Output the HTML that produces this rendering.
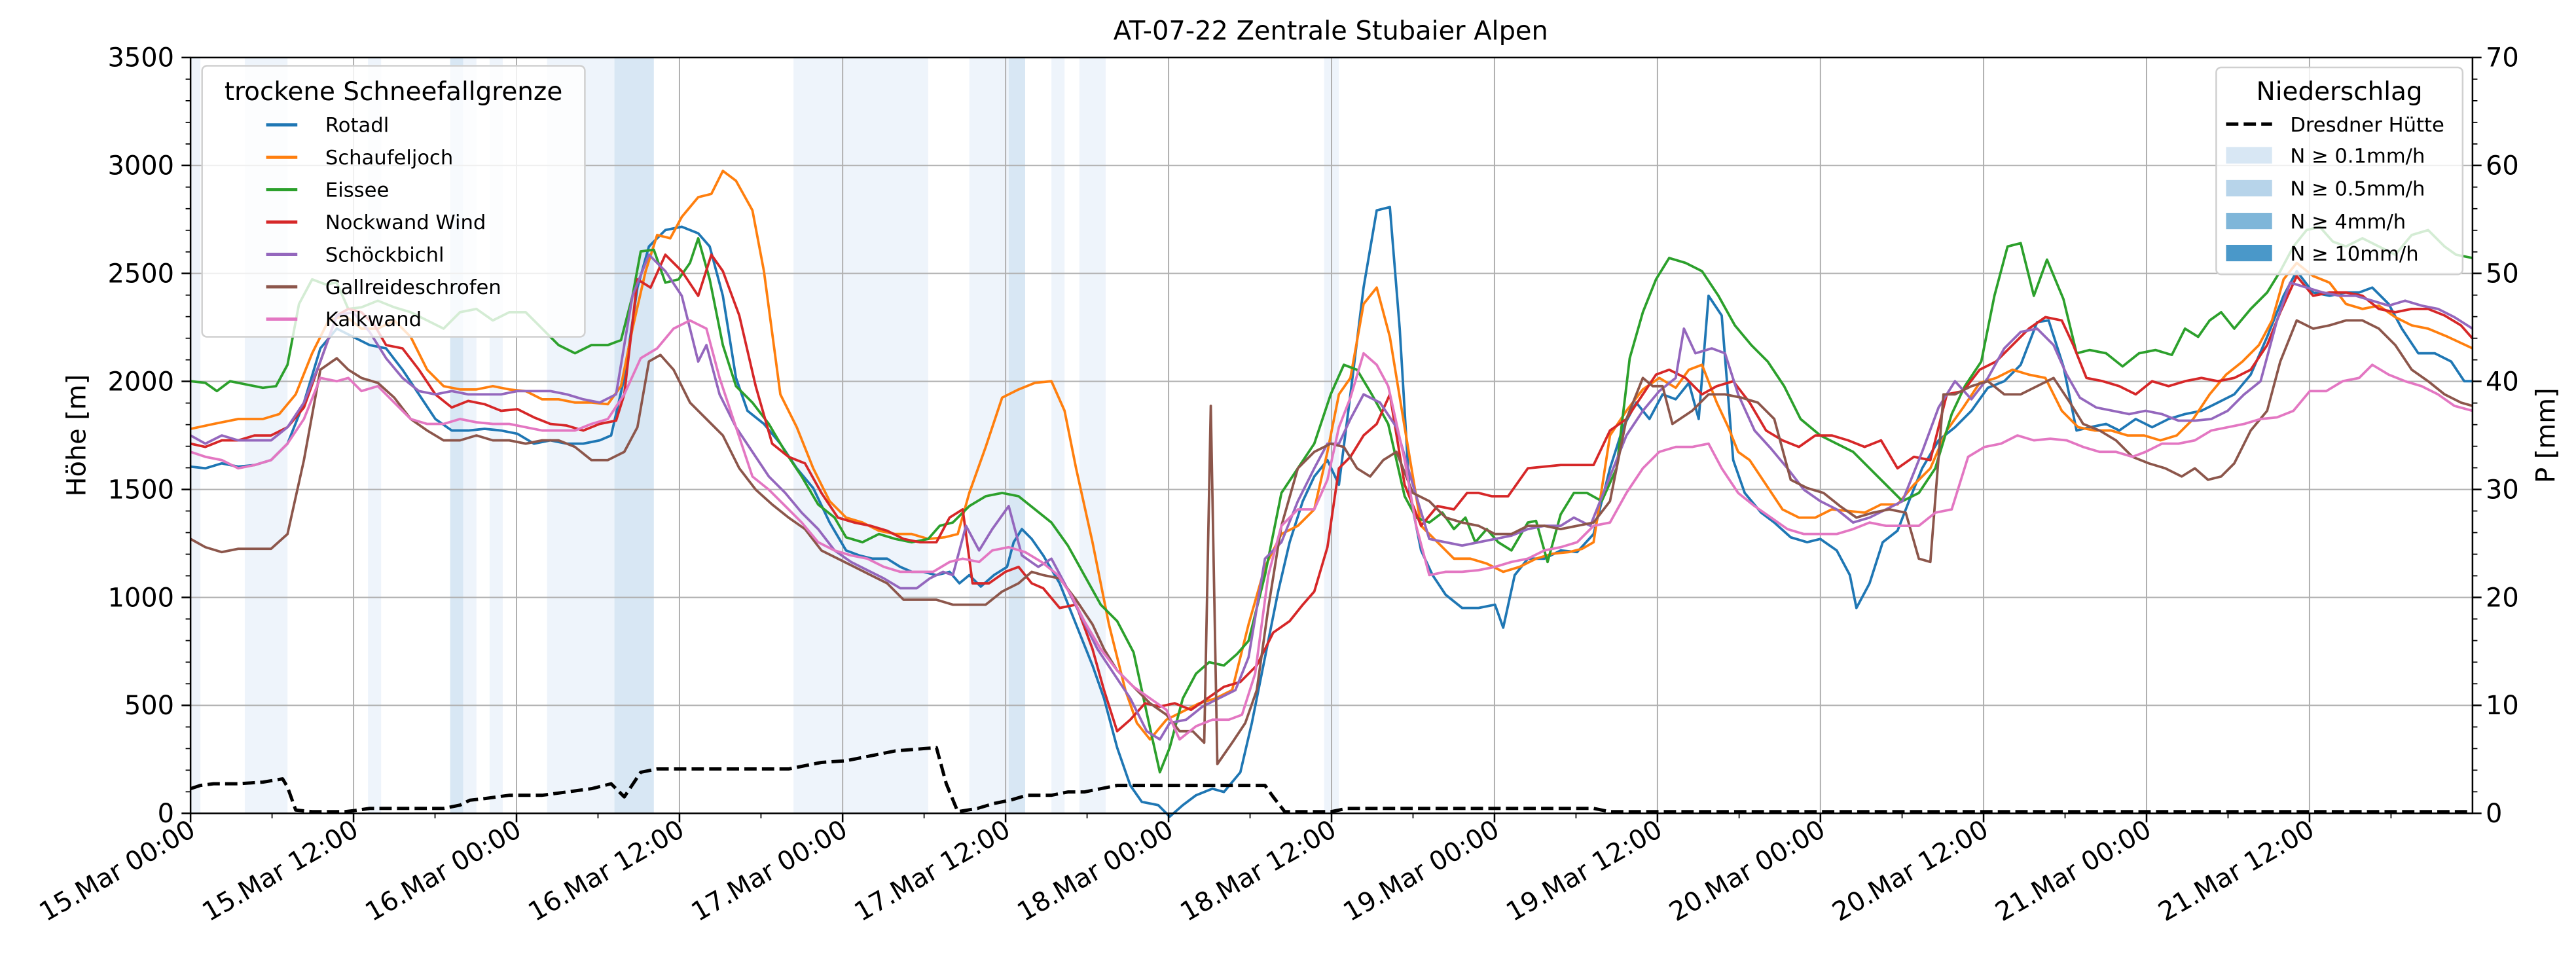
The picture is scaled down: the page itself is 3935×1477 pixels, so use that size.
<!DOCTYPE html>
<html><head><meta charset="utf-8"><style>html,body{margin:0;padding:0;background:#fff}svg{display:block}</style></head>
<body>
<svg width="3935" height="1477" viewBox="0 0 1568 588.5" xmlns="http://www.w3.org/2000/svg" font-family="DejaVu Sans, Liberation Sans, sans-serif">
<rect x="0" y="0" width="1568" height="588.5" fill="#fff"/>
<!-- precipitation bands -->
<g>
<rect x="116" y="35" width="6" height="460" fill="#eef4fb"/>
<rect x="149" y="35" width="26" height="460" fill="#eef4fb"/>
<rect x="224" y="35" width="8" height="460" fill="#eef4fb"/>
<rect x="274" y="35" width="8" height="460" fill="#d8e7f4"/>
<rect x="282" y="35" width="8" height="460" fill="#eef4fb"/>
<rect x="298" y="35" width="8" height="460" fill="#eef4fb"/>
<rect x="333" y="35" width="41" height="460" fill="#eef4fb"/>
<rect x="374" y="35" width="24" height="460" fill="#d8e7f4"/>
<rect x="483" y="35" width="82" height="460" fill="#eef4fb"/>
<rect x="590" y="35" width="24" height="460" fill="#eef4fb"/>
<rect x="614" y="35" width="10" height="460" fill="#d8e7f4"/>
<rect x="640" y="35" width="8" height="460" fill="#eef4fb"/>
<rect x="657" y="35" width="16" height="460" fill="#eef4fb"/>
<rect x="806" y="35" width="9" height="460" fill="#eef4fb"/>
</g>
<!-- grid -->
<g stroke="#b0b0b0" stroke-width="0.8" fill="none">
<path d="M116 429.3H1505M116 363.6H1505M116 297.9H1505M116 232.1H1505M116 166.4H1505M116 100.7H1505"/>
<path d="M215.2 35V495M314.4 35V495M413.6 35V495M512.9 35V495M612.1 35V495M711.3 35V495M810.5 35V495M909.7 35V495M1008.9 35V495M1108.1 35V495M1207.4 35V495M1306.6 35V495M1405.8 35V495"/>
</g>
<!-- series -->
<g fill="none" stroke-width="1.5" stroke-linejoin="round">
<polyline stroke="#1f77b4" points="116,284 125,285 135,282 145,284 155,283 165,280 175,270 185,245 195,212 205,200 215,205 225,210 235,212 245,225 255,240 265,255 275,262 285,262 295,261 305,262 315,264 325,270 335,268 345,270 355,270 365,268 372,265 380,230 388,175 395,150 405,140 415,138 425,142 432,150 440,180 448,230 455,250 465,258 475,270 485,285 495,297 505,318 515,335 523,338 531,340 540,340 548,345 555,348 562,348 570,350 578,348 584,355 590,350 597,357 605,350 613,345 617,330 622,322 628,328 635,338 645,355 655,380 665,405 672,425 680,455 688,478 695,488 705,490 712,497 720,490 728,484 738,480 745,482 755,470 762,440 770,400 778,360 785,330 793,305 800,290 808,280 815,295 822,240 830,175 838,128 846,126 852,200 858,300 865,335 872,350 880,362 890,370 900,370 910,368 915,382 922,350 930,340 940,340 950,335 960,336 970,325 980,285 988,260 996,245 1004,255 1012,240 1020,243 1028,233 1034,255 1040,180 1048,192 1055,280 1062,300 1072,312 1080,318 1090,327 1100,330 1108,328 1118,335 1126,350 1130,370 1138,355 1146,330 1155,323 1162,305 1170,285 1180,268 1190,260 1200,250 1210,236 1220,232 1230,222 1240,196 1247,195 1256,223 1264,262 1272,260 1282,258 1290,262 1300,255 1310,260 1320,255 1330,252 1340,250 1350,245 1360,240 1370,228 1380,205 1390,180 1398,165 1408,178 1418,180 1428,178 1436,178 1444,175 1454,185 1462,200 1472,215 1482,215 1492,220 1500,232 1505,232"/>
<polyline stroke="#ff7f0e" points="116,261 130,258 145,255 160,255 170,252 180,240 190,215 200,195 210,192 220,200 230,200 240,195 250,205 260,225 270,235 280,237 290,237 300,235 310,237 320,238 330,243 340,243 350,245 360,245 370,246 378,235 385,200 393,165 400,143 408,145 415,132 425,120 433,118 440,104 448,110 458,128 465,165 475,240 485,260 495,285 505,305 515,315 525,318 535,323 545,325 555,325 565,328 575,327 583,325 590,300 600,272 610,242 620,237 630,233 640,232 648,250 655,285 665,330 675,380 685,420 692,440 700,450 710,438 720,433 730,428 740,425 750,420 760,380 770,345 780,325 790,320 800,310 808,275 815,240 822,230 830,185 838,175 846,205 855,260 865,320 875,330 885,340 895,340 905,343 915,348 925,345 935,340 945,337 955,336 963,334 970,330 980,265 990,250 1000,237 1010,230 1020,236 1028,225 1036,222 1045,245 1052,260 1058,275 1065,280 1075,295 1085,310 1095,315 1105,315 1115,310 1125,311 1135,312 1145,307 1155,307 1165,295 1175,285 1185,262 1195,248 1205,233 1215,230 1225,225 1235,228 1245,230 1255,250 1265,260 1275,262 1285,262 1295,265 1305,265 1315,268 1325,265 1335,255 1345,240 1355,228 1365,220 1375,210 1383,195 1390,170 1398,160 1408,168 1418,172 1428,185 1438,188 1448,186 1458,193 1468,198 1478,200 1490,205 1505,212"/>
<polyline stroke="#2ca02c" points="116,232 125,233 132,238 140,232 150,234 160,236 168,235 175,222 182,185 190,170 198,173 205,172 212,188 220,187 230,183 240,187 250,190 260,195 270,200 280,190 290,188 300,195 310,190 320,190 330,200 340,210 350,215 360,210 370,210 378,207 385,180 390,153 398,152 405,172 413,170 420,160 425,145 432,170 440,210 448,235 458,245 468,258 478,275 488,290 498,307 508,315 515,327 525,330 535,325 545,328 555,330 565,328 572,320 580,318 590,308 600,302 610,300 620,302 630,310 640,318 650,332 660,350 670,368 680,378 690,397 700,443 706,470 712,455 720,425 728,410 736,403 745,405 753,398 760,390 770,350 780,300 790,285 800,270 810,240 818,222 826,225 835,240 845,258 855,302 862,315 870,318 878,312 885,322 892,315 898,330 905,322 912,330 920,335 930,318 935,317 942,342 950,313 958,300 966,300 975,305 984,285 992,218 1000,190 1008,170 1016,157 1026,160 1036,165 1046,180 1056,198 1066,210 1076,220 1086,235 1096,255 1108,265 1118,270 1128,275 1138,285 1148,295 1158,305 1168,300 1178,285 1188,252 1196,235 1206,220 1214,180 1222,150 1230,148 1238,180 1246,158 1256,182 1264,215 1272,213 1282,215 1292,223 1302,215 1312,213 1322,216 1330,200 1338,205 1345,195 1352,190 1360,200 1370,188 1380,178 1388,165 1396,150 1404,140 1412,138 1420,147 1428,150 1438,145 1448,150 1458,155 1468,143 1478,140 1488,150 1495,155 1505,157"/>
<polyline stroke="#d62728" points="116,270 125,272 135,268 145,268 155,265 165,265 175,260 185,248 195,220 205,192 212,188 220,190 228,198 235,210 245,212 255,225 265,240 275,248 285,244 295,246 305,250 315,249 325,254 335,258 345,259 355,262 365,258 375,256 380,240 388,170 396,175 405,155 415,165 425,180 433,155 440,165 450,192 460,235 470,270 480,278 490,282 500,300 510,315 520,318 530,320 540,323 550,328 560,330 570,330 578,315 586,310 592,355 602,355 612,348 620,345 628,355 635,358 645,370 655,368 665,395 672,420 680,445 688,438 697,428 706,430 715,428 725,432 735,425 745,418 755,415 765,405 775,385 785,378 793,368 800,360 808,333 815,285 822,278 830,265 838,258 846,240 855,295 865,320 875,308 885,310 893,300 900,300 908,302 918,302 930,285 940,284 950,283 960,283 970,283 980,262 990,255 1000,240 1008,228 1016,225 1026,230 1036,240 1045,235 1055,232 1065,245 1075,262 1085,268 1095,272 1105,265 1115,265 1125,268 1135,272 1145,268 1155,285 1165,278 1175,280 1185,240 1195,238 1205,225 1215,220 1225,210 1235,200 1245,193 1255,195 1262,210 1270,230 1280,232 1290,235 1300,240 1310,232 1320,235 1330,232 1340,230 1350,232 1360,230 1370,225 1380,210 1388,190 1398,168 1408,180 1418,178 1428,178 1438,180 1448,188 1458,190 1468,188 1478,188 1488,192 1498,198 1505,206"/>
<polyline stroke="#9467bd" points="116,265 125,270 135,265 145,268 155,268 165,268 175,260 185,245 195,220 205,192 215,190 225,202 235,218 245,230 255,238 265,240 275,238 285,240 295,240 305,240 315,238 325,238 335,238 345,240 355,243 365,245 375,240 385,180 395,155 405,165 415,180 425,220 430,210 438,240 448,260 458,275 468,290 478,300 488,312 498,322 508,335 518,342 528,347 538,352 548,358 558,358 566,352 574,348 580,350 588,320 596,335 604,322 614,308 622,338 632,345 640,340 648,355 658,375 668,395 678,410 688,425 698,445 706,450 712,440 722,438 732,430 742,425 752,420 760,400 770,340 780,330 790,305 800,285 808,270 815,270 822,255 830,240 840,245 850,260 860,295 870,328 880,330 890,332 900,330 910,328 920,326 930,322 940,320 950,320 958,315 968,320 980,290 990,265 1000,250 1010,238 1020,230 1025,200 1032,215 1042,212 1050,215 1058,240 1068,262 1078,273 1088,285 1098,298 1108,305 1118,310 1128,318 1138,315 1148,310 1158,305 1170,275 1180,248 1190,232 1200,243 1210,230 1220,212 1230,202 1240,200 1250,210 1258,228 1266,242 1276,248 1286,250 1296,252 1306,250 1316,252 1326,256 1336,256 1346,255 1356,250 1366,240 1376,232 1386,195 1394,172 1404,175 1414,178 1424,180 1434,180 1444,183 1454,186 1464,183 1474,186 1484,188 1494,193 1505,200"/>
<polyline stroke="#8c564b" points="116,328 125,333 135,336 145,334 155,334 165,334 175,325 185,280 195,225 205,218 212,225 220,230 230,233 240,242 250,255 260,262 270,268 280,268 290,265 300,268 310,268 320,270 330,268 340,268 350,272 360,280 370,280 380,275 388,260 395,220 402,216 410,225 420,245 430,255 440,265 450,285 460,298 470,307 480,315 490,322 500,335 510,340 520,345 530,350 540,355 550,365 560,365 570,365 580,368 590,368 600,368 610,360 620,355 628,348 635,350 645,352 655,365 665,380 672,395 680,408 690,418 700,428 710,435 718,445 726,445 733,452 737,247 741,465 750,452 758,440 765,420 772,370 780,320 790,285 800,275 810,270 818,272 826,285 834,290 842,280 850,275 860,300 870,305 880,315 890,318 900,320 910,325 920,325 930,320 940,320 950,322 960,320 970,318 980,305 990,255 1000,230 1006,235 1012,235 1018,258 1030,250 1040,240 1050,240 1060,242 1070,245 1080,255 1090,292 1100,297 1110,300 1120,308 1130,315 1140,312 1150,310 1160,312 1168,340 1175,342 1183,240 1190,240 1200,235 1210,232 1220,240 1230,240 1240,235 1250,230 1260,245 1268,258 1278,262 1288,268 1298,278 1308,282 1318,285 1328,290 1336,285 1344,292 1352,290 1360,282 1370,262 1380,250 1388,220 1398,195 1408,200 1418,198 1428,195 1438,195 1448,200 1458,210 1468,225 1478,232 1488,240 1498,245 1505,247"/>
<polyline stroke="#e377c2" points="116,275 125,278 135,280 145,285 155,283 165,280 175,270 185,255 195,230 205,232 212,230 220,238 230,235 240,245 250,255 260,258 270,258 280,255 290,257 300,258 310,258 320,260 330,262 340,262 350,262 360,258 370,255 380,240 390,218 400,212 410,200 420,195 430,200 438,230 448,260 458,290 468,298 478,308 488,318 498,330 508,335 518,338 528,340 538,345 548,348 558,348 568,348 578,342 586,340 596,342 604,335 614,333 624,336 634,342 644,350 652,362 660,378 670,395 680,408 690,418 700,425 710,432 718,450 728,442 738,438 748,438 756,435 764,410 772,350 780,320 790,310 800,310 808,292 815,260 822,242 830,215 838,222 845,235 855,280 862,320 870,350 880,348 890,348 900,347 910,345 920,342 930,340 940,335 950,333 960,330 970,320 980,318 990,300 1000,285 1010,275 1020,272 1030,272 1040,270 1048,285 1058,300 1068,308 1078,315 1088,322 1098,325 1108,325 1118,325 1128,322 1138,318 1148,320 1158,320 1168,320 1178,312 1188,310 1198,278 1208,272 1218,270 1228,265 1238,268 1248,267 1258,268 1268,272 1278,275 1288,275 1298,278 1306,275 1316,270 1326,270 1336,268 1346,262 1356,260 1366,258 1376,255 1386,254 1396,250 1406,238 1416,238 1426,232 1436,230 1444,222 1454,228 1464,232 1474,235 1484,240 1494,247 1505,250"/>
<polyline stroke="#000" stroke-width="2" stroke-dasharray="7.5,3.2" points="116,480 122,478 130,477 145,477 160,476 172,474 175,479 180,493 190,494 210,494 218,493 225,492 270,492 280,490 286,487 295,486 310,484 330,484 345,482 360,480 372,477 380,485 390,470 400,468 480,468 490,466 500,464 515,463 530,460 545,457 570,455 576,477 583,494 595,492 605,489 615,487 625,484 640,484 650,482 660,482 670,480 680,478 690,478 770,478 775,485 782,494 810,494 815,493 820,492 970,492 980,494 1505,494"/>
</g>
<!-- spines -->
<rect x="116" y="35" width="1389" height="460" fill="none" stroke="#000" stroke-width="1"/>
<!-- ticks -->
<g stroke="#000" stroke-width="1" fill="none">
<path d="M110.5 495H116M110.5 429.3H116M110.5 363.6H116M110.5 297.9H116M110.5 232.1H116M110.5 166.4H116M110.5 100.7H116M110.5 35H116"/>
<path d="M1505 495H1510.5M1505 429.3H1510.5M1505 363.6H1510.5M1505 297.9H1510.5M1505 232.1H1510.5M1505 166.4H1510.5M1505 100.7H1510.5M1505 35H1510.5"/>
<path stroke-width="0.7" d="M113 481.86h3M113 468.71h3M113 455.57h3M113 442.43h3M113 416.14h3M113 403h3M113 389.86h3M113 376.71h3M113 350.43h3M113 337.29h3M113 324.14h3M113 311h3M113 284.71h3M113 271.57h3M113 258.43h3M113 245.29h3M113 219h3M113 205.86h3M113 192.71h3M113 179.57h3M113 153.29h3M113 140.14h3M113 127h3M113 113.86h3M113 87.57h3M113 74.43h3M113 61.29h3M113 48.14h3"/>
<path stroke-width="0.7" d="M1505 481.86h3M1505 468.71h3M1505 455.57h3M1505 442.43h3M1505 416.14h3M1505 403h3M1505 389.86h3M1505 376.71h3M1505 350.43h3M1505 337.29h3M1505 324.14h3M1505 311h3M1505 284.71h3M1505 271.57h3M1505 258.43h3M1505 245.29h3M1505 219h3M1505 205.86h3M1505 192.71h3M1505 179.57h3M1505 153.29h3M1505 140.14h3M1505 127h3M1505 113.86h3M1505 87.57h3M1505 74.43h3M1505 61.29h3M1505 48.14h3"/>
<path d="M116 495v5.5M215.2 495v5.5M314.4 495v5.5M413.6 495v5.5M512.9 495v5.5M612.1 495v5.5M711.3 495v5.5M810.5 495v5.5M909.7 495v5.5M1008.9 495v5.5M1108.1 495v5.5M1207.4 495v5.5M1306.6 495v5.5M1405.8 495v5.5"/>
<path stroke-width="0.7" d="M165.6 495v3M264.8 495v3M364 495v3M463.2 495v3M562.5 495v3M661.7 495v3M760.9 495v3M860.1 495v3M959.3 495v3M1058.6 495v3M1157.8 495v3M1257 495v3M1356.2 495v3M1455.4 495v3"/>
</g>
<!-- tick labels -->
<g font-size="15.9" fill="#000" text-anchor="end">
<text x="106" y="500.5">0</text>
<text x="106" y="434.8">500</text>
<text x="106" y="369.1">1000</text>
<text x="106" y="303.4">1500</text>
<text x="106" y="237.6">2000</text>
<text x="106" y="171.9">2500</text>
<text x="106" y="106.2">3000</text>
<text x="106" y="40.5">3500</text>
</g>
<g font-size="15.9" fill="#000" text-anchor="start">
<text x="1513" y="500.5">0</text>
<text x="1513" y="434.8">10</text>
<text x="1513" y="369.1">20</text>
<text x="1513" y="303.4">30</text>
<text x="1513" y="237.6">40</text>
<text x="1513" y="171.9">50</text>
<text x="1513" y="106.2">60</text>
<text x="1513" y="40.5">70</text>
</g>
<g font-size="15.9" fill="#000" text-anchor="end">
<text transform="translate(120,508) rotate(-30)">15.Mar 00:00</text>
<text transform="translate(219.2,508) rotate(-30)">15.Mar 12:00</text>
<text transform="translate(318.4,508) rotate(-30)">16.Mar 00:00</text>
<text transform="translate(417.6,508) rotate(-30)">16.Mar 12:00</text>
<text transform="translate(516.9,508) rotate(-30)">17.Mar 00:00</text>
<text transform="translate(616.1,508) rotate(-30)">17.Mar 12:00</text>
<text transform="translate(715.3,508) rotate(-30)">18.Mar 00:00</text>
<text transform="translate(814.5,508) rotate(-30)">18.Mar 12:00</text>
<text transform="translate(913.7,508) rotate(-30)">19.Mar 00:00</text>
<text transform="translate(1012.9,508) rotate(-30)">19.Mar 12:00</text>
<text transform="translate(1112.1,508) rotate(-30)">20.Mar 00:00</text>
<text transform="translate(1211.4,508) rotate(-30)">20.Mar 12:00</text>
<text transform="translate(1310.6,508) rotate(-30)">21.Mar 00:00</text>
<text transform="translate(1409.8,508) rotate(-30)">21.Mar 12:00</text>
</g>
<text x="810" y="24" font-size="15.9" text-anchor="middle">AT-07-22 Zentrale Stubaier Alpen</text>
<text transform="translate(52,265) rotate(-90)" font-size="15.9" text-anchor="middle">Höhe [m]</text>
<text transform="translate(1555,265) rotate(-90)" font-size="15.9" text-anchor="middle">P [mm]</text>
<!-- left legend -->
<rect x="123" y="40" width="233" height="165" rx="3" fill="#fff" fill-opacity="0.8" stroke="#d0d0d0" stroke-width="1"/>
<text x="239.5" y="61" font-size="15.5" text-anchor="middle">trockene Schneefallgrenze</text>
<g stroke-width="2" fill="none">
<path d="M162 76h19" stroke="#1f77b4"/>
<path d="M162 95.7h19" stroke="#ff7f0e"/>
<path d="M162 115.4h19" stroke="#2ca02c"/>
<path d="M162 135.1h19" stroke="#d62728"/>
<path d="M162 154.8h19" stroke="#9467bd"/>
<path d="M162 174.5h19" stroke="#8c564b"/>
<path d="M162 194.2h19" stroke="#e377c2"/>
</g>
<g font-size="12.2">
<text x="198" y="80.3">Rotadl</text>
<text x="198" y="100">Schaufeljoch</text>
<text x="198" y="119.7">Eissee</text>
<text x="198" y="139.4">Nockwand Wind</text>
<text x="198" y="159.1">Schöckbichl</text>
<text x="198" y="178.8">Gallreideschrofen</text>
<text x="198" y="198.5">Kalkwand</text>
</g>
<!-- right legend -->
<rect x="1349" y="41" width="150" height="126" rx="3" fill="#fff" fill-opacity="0.8" stroke="#d0d0d0" stroke-width="1"/>
<text x="1424" y="61" font-size="15.5" text-anchor="middle">Niederschlag</text>
<path d="M1355 75.5h28" stroke="#000" stroke-width="2" stroke-dasharray="7.5,3.2"/>
<rect x="1355" y="89.5" width="28" height="10" fill="#d8e7f4"/>
<rect x="1355" y="109.5" width="28" height="10" fill="#b7d4ea"/>
<rect x="1355" y="129.5" width="28" height="10" fill="#7fb6d9"/>
<rect x="1355" y="149" width="28" height="10" fill="#4a98c9"/>
<g font-size="12.2">
<text x="1394" y="80">Dresdner Hütte</text>
<text x="1394" y="99">N ≥ 0.1mm/h</text>
<text x="1394" y="119">N ≥ 0.5mm/h</text>
<text x="1394" y="139">N ≥ 4mm/h</text>
<text x="1394" y="158.5">N ≥ 10mm/h</text>
</g>
</svg>
</body></html>
